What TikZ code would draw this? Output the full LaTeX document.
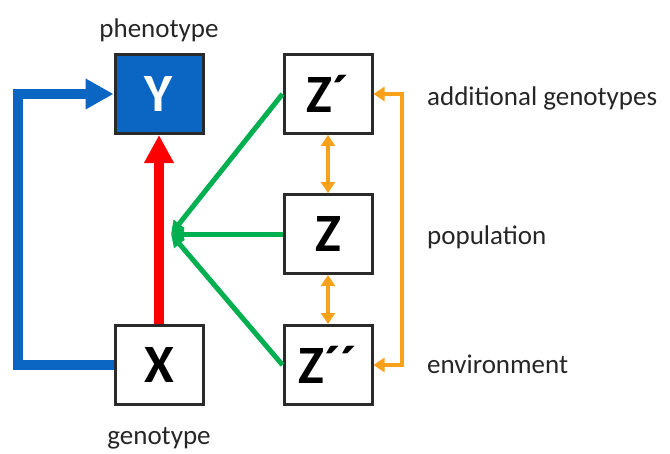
\documentclass[tikz,border=0pt]{standalone}
\usepackage{fontspec}
\setmainfont{Carlito}
\usetikzlibrary{arrows.meta}
\definecolor{cblue}{HTML}{0A66C2}
\definecolor{cline}{HTML}{2A2A2A}
\definecolor{cgreen}{HTML}{00B050}
\definecolor{corange}{HTML}{F9A11B}
\definecolor{cred}{HTML}{FF0000}
\tikzset{
  box/.style={draw=cline, line width=3pt, minimum width=88pt, minimum height=79pt, inner sep=0pt,
    font=\fontsize{54}{60}\selectfont\bfseries, fill=white},
  lbl/.style={font=\fontsize{27}{32}\selectfont, text=black!85, inner sep=0pt},
  bluearrow/.style={draw=cblue, line width=10.5pt, -{Triangle[width=29pt,length=28pt]}},
  redarrow/.style={draw=cred, line width=10.5pt, -{Triangle[width=28pt,length=28pt]}},
  greenarrow/.style={draw=cgreen, line width=5pt, -{Triangle[width=13pt,length=13pt]}},
  orangearrow/.style={draw=corange, line width=4.5pt, {Triangle[width=14pt,length=11pt]}-{Triangle[width=14pt,length=11pt]}},
}
\begin{document}
\begin{tikzpicture}[x=1pt,y=-1pt]
\useasboundingbox (0,0) rectangle (670,453);
\node[box, fill=cblue, text=white] (y) at (159,94) {Y};
\node[box] (x) at (159,365) {X};
\node[box] (zp) at (328,94) {Z´};
\node[box] (z) at (328,234) {Z};
\node[box] (zpp) at (328,365) {Z´´};
\coordinate (g) at (171,234);
\coordinate (bl) at (18,365);
\coordinate (oc) at (402,94);

\node[lbl, anchor=base] (lp) at (159,37) {phenotype};
\node[lbl, anchor=base] (lg) at (159,444) {genotype};
\node[lbl, anchor=base west] (la) at (427,105) {additional genotypes};
\node[lbl, anchor=base west] (lpo) at (427,244) {population};
\node[lbl, anchor=base west] (le) at (427,373) {environment};

\draw[bluearrow] (x.west) -- (bl) |- (y.west);
\draw[redarrow] (x.north) -- (y.south);
\draw[greenarrow] (zp.west) -- (g);
\draw[greenarrow] (z.west) -- (g);
\draw[greenarrow] (zpp.west) -- (g);
\draw[orangearrow] (zp.east) -- (oc) |- (zpp.east);
\draw[orangearrow] (zp.south) -- (z.north);
\draw[orangearrow] (z.south) -- (zpp.north);
\end{tikzpicture}
\end{document}
